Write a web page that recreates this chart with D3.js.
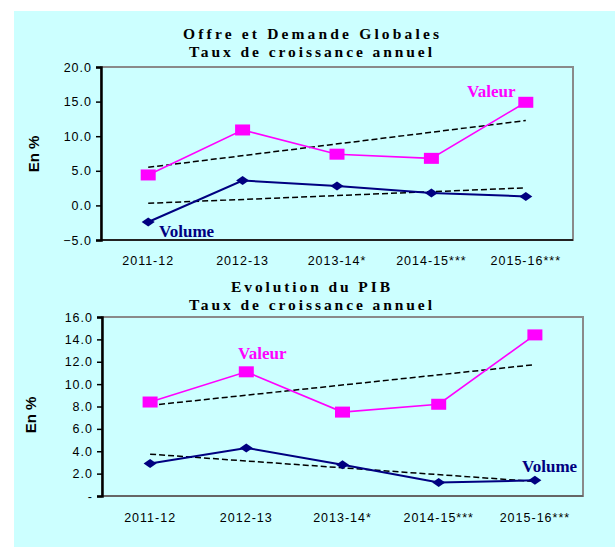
<!DOCTYPE html>
<html><head><meta charset="utf-8">
<script src="https://cdn.jsdelivr.net/npm/d3@7"></script>
<style>html,body{margin:0;padding:0;background:#fff;}svg{display:block;}</style>
</head><body>
<script>
const categories = ["2011-12","2012-13","2013-14*","2014-15***","2015-16***"];
// Chart 1: Offre et Demande Globales
const odgValeur = [4.4, 10.9, 7.4, 6.8, 14.9];
const odgVolume = [-2.4, 3.6, 2.8, 1.8, 1.3];
const odgTicks = [-5, 0, 5, 10, 15, 20];
// Chart 2: Evolution du PIB
const pibValeur = [8.4, 11.1, 7.5, 8.2, 14.4];
const pibVolume = [2.9, 4.3, 2.8, 1.2, 1.4];
const pibTicks = [0, 2, 4, 6, 8, 10, 12, 14, 16];

const W = 615, H = 547;
const svg = d3.select("body").append("svg").attr("width", W).attr("height", H);
svg.append("rect").attr("x", 14).attr("y", 11).attr("width", W - 14).attr("height", H - 11).attr("fill", "#CCFFFF");

function trend(vals) {
  const n = vals.length, xs = vals.map((_, i) => i + 1);
  const mx = d3.mean(xs), my = d3.mean(vals);
  const slope = d3.sum(xs.map((x, i) => (x - mx) * (vals[i] - my))) / d3.sum(xs.map(x => (x - mx) ** 2));
  return [my + slope * (1 - mx), my + slope * (n - mx)];
}

function drawChart(cfg) {
  const g = svg.append("g");
  const x = d3.scaleBand().domain(categories).range([cfg.left, cfg.right]);
  const y = d3.scaleLinear().domain(cfg.domain).range([cfg.bottom, cfg.top]);
  const cx = c => x(c) + x.bandwidth() / 2;

  // titles
  cfg.titles.forEach(t => {
    g.append("text").attr("x", t.x).attr("y", t.y).attr("text-anchor", "start")
      .attr("font-family", "Liberation Serif, Times New Roman, serif").attr("font-weight", "bold")
      .attr("font-size", 15.5).attr("textLength", t.w).attr("lengthAdjust", "spacing")
      .attr("fill", "#000").text(t.text);
  });

  // plot border (gray)
  g.append("rect").attr("x", cfg.left).attr("y", cfg.top)
    .attr("width", cfg.right - cfg.left).attr("height", cfg.bottom - cfg.top)
    .attr("fill", "none").attr("stroke", "#8a8a8a").attr("stroke-width", 2);
  // bottom axis line
  g.append("line").attr("x1", cfg.left).attr("x2", cfg.right).attr("y1", cfg.bottom).attr("y2", cfg.bottom)
    .attr("stroke", cfg.bottomColor).attr("stroke-width", 2);

  // y axis
  const yAxis = d3.axisLeft(y).tickValues(cfg.ticks).tickSize(5).tickPadding(4)
    .tickFormat(cfg.tickFormat);
  const ya = g.append("g").attr("transform", `translate(${cfg.left},0)`).call(yAxis);
  ya.select(".domain").attr("stroke", "#000").attr("stroke-width", 2.5);
  ya.selectAll(".tick line").attr("stroke", "#000").attr("stroke-width", 1.5);
  ya.selectAll(".tick text").attr("font-family", "Liberation Sans, Arial, sans-serif")
    .attr("font-size", 12.5).attr("letter-spacing", "1px").attr("fill", "#000");

  // x axis labels
  const xAxis = d3.axisBottom(x).tickSize(0).tickPadding(cfg.xPad);
  const xa = g.append("g").attr("transform", `translate(0,${cfg.bottom})`).call(xAxis);
  xa.select(".domain").remove();
  xa.selectAll(".tick text").attr("font-family", "Liberation Sans, Arial, sans-serif")
    .attr("font-size", 12.5).attr("letter-spacing", "1px").attr("fill", "#000");

  // y label
  g.append("text").attr("transform", `translate(${cfg.ylabX},${cfg.ylabY}) rotate(-90)`)
    .attr("text-anchor", "middle").attr("font-family", "Liberation Sans, Arial, sans-serif")
    .attr("font-weight", "bold").attr("font-size", 15).attr("fill", "#000").text("En %");

  // trend lines
  [cfg.valeur, cfg.volume].forEach(vals => {
    const t = trend(vals);
    g.append("line").attr("x1", cx(categories[0])).attr("y1", y(t[0]))
      .attr("x2", cx(categories[categories.length - 1])).attr("y2", y(t[1]))
      .attr("stroke", "#000").attr("stroke-width", 1.5).attr("stroke-dasharray", "6,3");
  });

  const line = d3.line().x((d, i) => cx(categories[i])).y(d => y(d));
  // Valeur
  g.append("path").datum(cfg.valeur).attr("d", line).attr("fill", "none")
    .attr("stroke", "#FF00FF").attr("stroke-width", 1.6);
  g.selectAll(".sq").data(cfg.valeur).enter().append("rect")
    .attr("x", (d, i) => cx(categories[i]) - 7.5).attr("y", d => y(d) - 5.5)
    .attr("width", 15).attr("height", 11).attr("fill", "#FF00FF");
  // Volume
  g.append("path").datum(cfg.volume).attr("d", line).attr("fill", "none")
    .attr("stroke", "#000080").attr("stroke-width", 2);
  g.selectAll(".dm").data(cfg.volume).enter().append("path")
    .attr("d", (d, i) => {
      const px = cx(categories[i]), py = y(d);
      return `M${px - 6.5},${py}L${px},${py - 4.5}L${px + 6.5},${py}L${px},${py + 4.5}Z`;
    }).attr("fill", "#000080");

  // series labels
  g.append("text").attr("x", cfg.valLab[0]).attr("y", cfg.valLab[1])
    .attr("font-family", "Liberation Serif, Times New Roman, serif").attr("font-weight", "bold")
    .attr("font-size", 17).attr("fill", "#FF00FF").text("Valeur");
  g.append("text").attr("x", cfg.volLab[0]).attr("y", cfg.volLab[1])
    .attr("font-family", "Liberation Serif, Times New Roman, serif").attr("font-weight", "bold")
    .attr("font-size", 17).attr("fill", "#000080").text("Volume");
}

drawChart({
  left: 101, right: 573, top: 67, bottom: 240, domain: [-5, 20], ticks: odgTicks,
  tickFormat: d => d3.format(".1f")(d), bottomColor: "#222", xPad: 16,
  titles: [{text: "Offre et Demande Globales", x: 183, y: 39, w: 256},
           {text: "Taux de croissance annuel", x: 189, y: 57, w: 243}],
  ylabX: 39, ylabY: 154,
  valeur: odgValeur, volume: odgVolume,
  valLab: [467, 97], volLab: [159, 237]
});

drawChart({
  left: 102, right: 583, top: 317, bottom: 496, domain: [0, 16], ticks: pibTicks,
  tickFormat: d => d === 0 ? "-" : d3.format(".1f")(d), bottomColor: "#666", xPad: 17,
  titles: [{text: "Evolution du PIB", x: 231, y: 291.5, w: 159},
           {text: "Taux de croissance annuel", x: 189, y: 310, w: 243}],
  ylabX: 36, ylabY: 415,
  valeur: pibValeur, volume: pibVolume,
  valLab: [238, 359], volLab: [522, 472]
});
</script>
</body></html>
